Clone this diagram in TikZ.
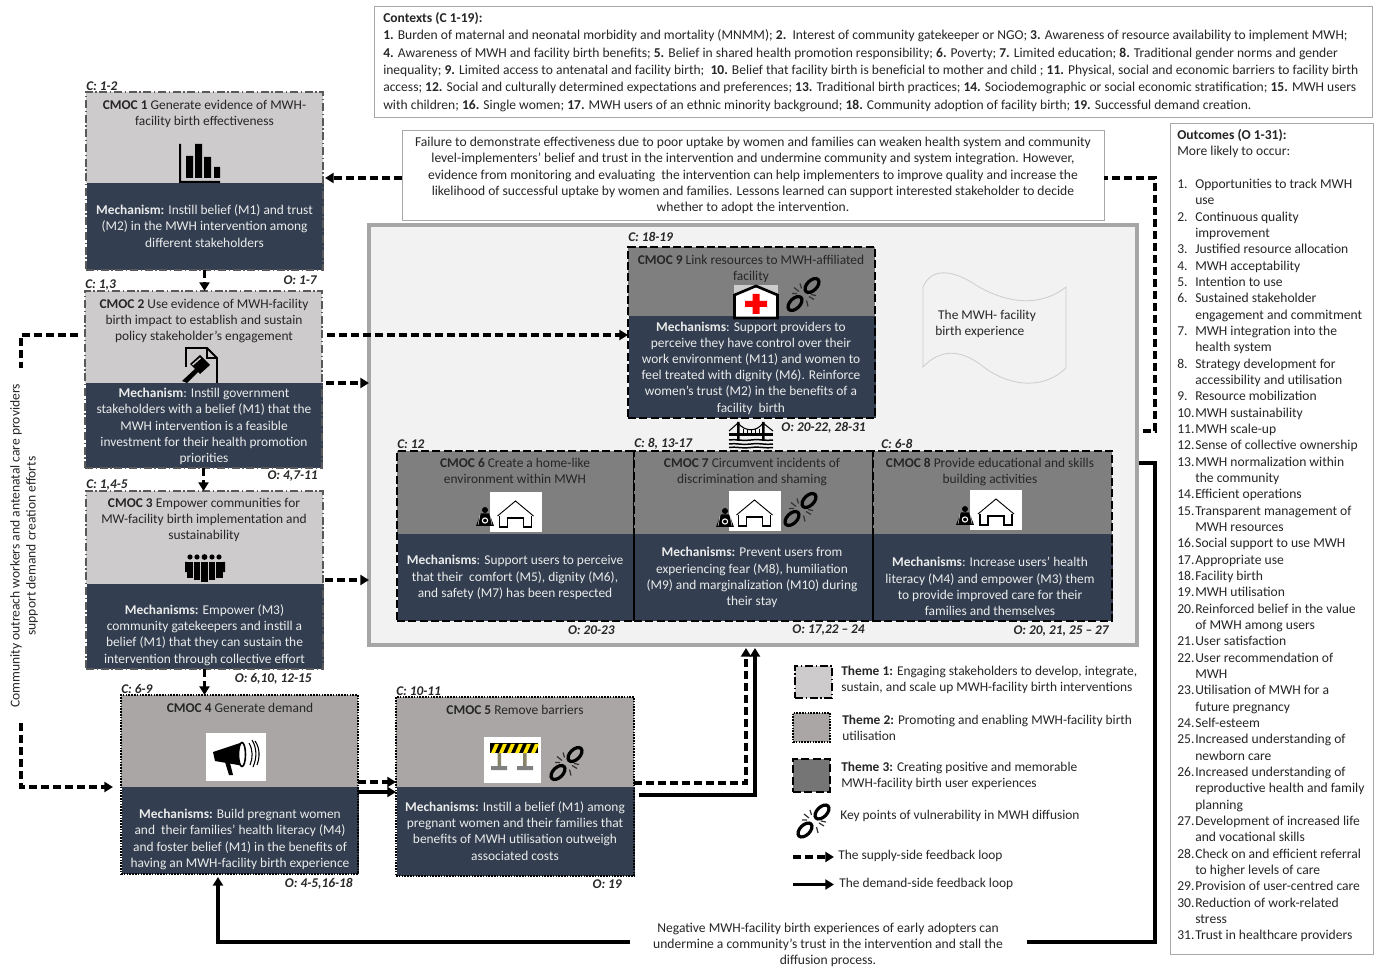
\documentclass[tikz,border=0pt]{standalone}
\usepackage{fontspec}
\setmainfont{Carlito}
\usetikzlibrary{arrows.meta,calc}
\definecolor{thOne}{HTML}{CDCBCC}
\definecolor{thTwo}{HTML}{A9A6A5}
\definecolor{thThree}{HTML}{7F7F7F}
\definecolor{mechblue}{HTML}{333F50}
\definecolor{inkdark}{HTML}{262626}
\definecolor{panelfill}{HTML}{F2F2F2}
\definecolor{panelline}{HTML}{A6A6A6}
\definecolor{thinline}{HTML}{A8A8A8}
\newcommand\basefont{\fontsize{10.05}{12.15}\selectfont}
\newcommand\widefont{\fontsize{10.18}{12.2}\selectfont}
\newcommand\rectnode[6][]{\node[inner sep=0pt,outer sep=0pt,anchor=north west,minimum width={(#5-#3)*0.75pt},minimum height={(#6-#4)*0.75pt},#1] (#2) at (#3,#4) {};}
\newcommand\cmocbox[7]{%
  \rectnode[#2fill]{#1h}{#3}{#4}{#6}{#5}%
  \rectnode[fill=mechblue]{#1m}{#3+1}{#5}{#6-1}{#7}%
  \rectnode[#2frame]{#1}{#3}{#4}{#6}{#7}%
}
\newcommand\oi[2]{\makebox[13.5pt][l]{#1}#2}
\tikzset{
  Afill/.style={fill=thOne}, Bfill/.style={fill=thTwo}, Cfill/.style={fill=thThree},
  Aframe/.style={draw=black!65,line width=0.9pt,dash pattern=on 6pt off 2pt on 1pt off 2pt},
  Bframe/.style={draw=black,line width=1.8pt,dash pattern=on 1.2pt off 0.9pt},
  Cframe/.style={draw=black,line width=1.8pt,dash pattern=on 6pt off 2.5pt},
  ttl/.style={font=\basefont,text=inkdark,align=center,inner sep=0pt},
  wide/.style={font=\widefont,text=inkdark,align=center,inner sep=0pt},
  mech/.style={font=\basefont,text=white!92!black,align=center,inner sep=0pt},
  clab/.style={font=\fontsize{10}{12}\selectfont\bfseries\itshape,text=inkdark,anchor=west,inner sep=0pt},
  olab/.style={font=\fontsize{10}{12}\selectfont\bfseries\itshape,text=inkdark,anchor=east,inner sep=0pt},
  plain/.style={font=\basefont,text=inkdark,align=left,inner sep=0pt,anchor=west},
  infobox/.style={draw=thinline,line width=0.7pt,fill=white},
  sup/.style={draw=black,line width=2.4pt,dash pattern=on 6pt off 3pt},
  dem/.style={draw=black,line width=2.4pt},
  head/.style={-{Triangle[length=6.5pt,width=7.5pt]}},
  brokenchain/.pic={
    \draw[black,line width=2.4pt,rotate around={45:(8,-9)}] (8,-9) ellipse [x radius=8.5,y radius=5];
    \draw[black,line width=2.4pt,rotate around={45:(-9,9)}] (-9,9) ellipse [x radius=8.5,y radius=5];
    \draw[black!80,line width=0.9pt] (-10,-7)--(-5,-3) (-4,-11)--(-2.5,-6) (-12,-1)--(-7,-1) (10,5)--(5,2) (4,12)--(2.5,6) (12,1)--(7,0);
  },
  homeicon/.pic={
    \fill[white] (0,0) rectangle (52,40);
    \draw[black,line width=0.7pt] (8,24)--(26,9)--(44,24);
    \draw[black,line width=0.8pt] (10,24)--(10,35)--(18,35)--(18,26)--(34,26)--(34,35)--(42,35)--(42,24);
  },
  womanicon/.pic={
    \fill[black] (0,-7) circle [radius=3];
    \fill[black] (-4,-3.5)--(4,-3.5)--(6,1)--(9,9)--(-9,9)--(-6,1)--cycle;
    \draw[white,line width=0.8pt] (0,3.5) circle [radius=2.6];
    \draw[white,line width=0.3pt] (-5,-2)--(-7,8) (5,-2)--(7,8);
  },
}
\begin{document}
\begin{tikzpicture}[x=0.75pt,y=-0.75pt]
\useasboundingbox (0,0) rectangle (1378,969);
\fill[white] (0,0) rectangle (1378,969);

% ---------- info boxes
\rectnode[infobox]{ctx}{374}{6}{1372}{117}
\node[font=\fontsize{10.16}{13}\selectfont,text=inkdark,align=left,inner sep=0pt,anchor=west] (ctxt) at (383,62) {\textbf{Contexts (C 1-19):}\\
\textbf{1.} Burden of maternal and neonatal morbidity and mortality (MNMM); \textbf{2.}\ \ Interest of community gatekeeper or NGO; \textbf{3.} Awareness of resource availability to implement MWH;\\
\textbf{4.} Awareness of MWH and facility birth benefits; \textbf{5.} Belief in shared health promotion responsibility; \textbf{6.} Poverty; \textbf{7.} Limited education; \textbf{8.} Traditional gender norms and gender\\
inequality; \textbf{9.} Limited access to antenatal and facility birth;\ \ \textbf{10.} Belief that facility birth is beneficial to mother and child ; \textbf{11.} Physical, social and economic barriers to facility birth\\
access; \textbf{12.} Social and culturally determined expectations and preferences; \textbf{13.} Traditional birth practices; \textbf{14.} Sociodemographic or social economic stratification; \textbf{15.} MWH users\\
with children; \textbf{16.} Single women; \textbf{17.} MWH users of an ethnic minority background; \textbf{18.} Community adoption of facility birth; \textbf{19.} Successful demand creation.};

\rectnode[infobox]{fail}{402}{130}{1104}{220}
\node[wide] (failt) at (753,175.5) {Failure to demonstrate effectiveness due to poor uptake by women and families can weaken health system and community\\
level-implementers' belief and trust in the intervention and undermine community and system integration. However,\\
evidence from monitoring and evaluating\ \ the intervention can help implementers to improve quality and increase the\\
likelihood of successful uptake by women and families. Lessons learned can support interested stakeholder to decide\\
whether to adopt the intervention.};

\rectnode[infobox]{outc}{1170}{123}{1373}{954}
\node[font=\fontsize{10.18}{12.25}\selectfont,text=inkdark,align=left,inner sep=0pt,anchor=north west] (outt) at (1177,129) {\textbf{Outcomes (O 1-31):}\\
More likely to occur:\\[12.25pt]
\oi{1.}{Opportunities to track MWH}\\
\oi{}{use}\\
\oi{2.}{Continuous quality}\\
\oi{}{improvement}\\
\oi{3.}{Justified resource allocation}\\
\oi{4.}{MWH acceptability}\\
\oi{5.}{Intention to use}\\
\oi{6.}{Sustained stakeholder}\\
\oi{}{engagement and commitment}\\
\oi{7.}{MWH integration into the}\\
\oi{}{health system}\\
\oi{8.}{Strategy development for}\\
\oi{}{accessibility and utilisation}\\
\oi{9.}{Resource mobilization}\\
\oi{10.}{MWH sustainability}\\
\oi{11.}{MWH scale-up}\\
\oi{12.}{Sense of collective ownership}\\
\oi{13.}{MWH normalization within}\\
\oi{}{the community}\\
\oi{14.}{Efficient operations}\\
\oi{15.}{Transparent management of}\\
\oi{}{MWH resources}\\
\oi{16.}{Social support to use MWH}\\
\oi{17.}{Appropriate use}\\
\oi{18.}{Facility birth}\\
\oi{19.}{MWH utilisation}\\
\oi{20.}{Reinforced belief in the value}\\
\oi{}{of MWH among users}\\
\oi{21.}{User satisfaction}\\
\oi{22.}{User recommendation of}\\
\oi{}{MWH}\\
\oi{23.}{Utilisation of MWH for a}\\
\oi{}{future pregnancy}\\
\oi{24.}{Self-esteem}\\
\oi{25.}{Increased understanding of}\\
\oi{}{newborn care}\\
\oi{26.}{Increased understanding of}\\
\oi{}{reproductive health and family}\\
\oi{}{planning}\\
\oi{27.}{Development of increased life}\\
\oi{}{and vocational skills}\\
\oi{28.}{Check on and efficient referral}\\
\oi{}{to higher levels of care}\\
\oi{29.}{Provision of user-centred care}\\
\oi{30.}{Reduction of work-related}\\
\oi{}{stress}\\
\oi{31.}{Trust in healthcare providers}};

% ---------- panel
\rectnode[draw=panelline,line width=2.5pt,fill=panelfill]{panel}{369}{225}{1137}{645}

% ---------- CMOC boxes
\cmocbox{ca}{A}{86}{92}{183}{323}{270}
\cmocbox{cb}{A}{85}{291}{383}{322}{468}
\cmocbox{cc}{A}{86}{491}{584}{323}{669}
\cmocbox{cd}{B}{121}{695}{787}{358}{874}
\cmocbox{ce}{B}{396}{697}{787}{634}{876}
\cmocbox{ci}{C}{628}{247}{316}{875}{418}
\cmocbox{cf}{C}{397}{451}{534}{634}{621}
\cmocbox{cg}{C}{634}{451}{534}{873}{621}
\cmocbox{ch}{C}{873}{451}{534}{1112}{621}

% ---------- titles
\node[ttl,anchor=north] (tta) at (204.5,100) {\textbf{CMOC 1} Generate evidence of MWH-\\facility birth effectiveness};
\node[ttl,anchor=north] (ttb) at (204,299) {\textbf{CMOC 2} Use evidence of MWH-facility\\birth impact to establish and sustain\\policy stakeholder’s engagement};
\node[ttl,anchor=north] (ttc) at (204,498) {\textbf{CMOC 3} Empower communities for\\MW-facility birth implementation and\\sustainability};
\node[ttl,anchor=north] (ttd) at (240,703) {\textbf{CMOC 4} Generate demand};
\node[ttl,anchor=north] (tte) at (515,705) {\textbf{CMOC 5} Remove barriers};
\node[ttl,anchor=north] (ttf) at (515,458) {\textbf{CMOC 6} Create a home-like\\environment within MWH};
\node[ttl,anchor=north] (ttg) at (752,458) {\textbf{CMOC 7} Circumvent incidents of\\discrimination and shaming};
\node[ttl,anchor=north] (tth) at (990,458) {\textbf{CMOC 8} Provide educational and skills\\building activities};
\node[ttl,anchor=north] (tti) at (751,255) {\textbf{CMOC 9} Link resources to MWH-affiliated\\facility};

% ---------- mechanisms
\node[mech] (mta) at (204.5,226) {\textbf{Mechanism:} Instill belief (M1) and trust\\(M2) in the MWH intervention among\\different stakeholders};
\node[mech] (mtb) at (204,426.5) {\textbf{Mechanism}: Instill government\\stakeholders with a belief (M1) that the\\MWH intervention is a feasible\\investment for their health promotion\\priorities};
\node[mech] (mtc) at (204.5,635) {\textbf{Mechanisms:} Empower (M3)\\community gatekeepers and instill a\\belief (M1) that they can sustain the\\intervention through collective effort};
\node[mech] (mtd) at (240,839.5) {\textbf{Mechanisms:} Build pregnant women\\and\ \ their families’ health literacy (M4)\\and foster belief (M1) in the benefits of\\having an MWH-facility birth experience};
\node[mech] (mte) at (515,831) {\textbf{Mechanisms:} Instill a belief (M1) among\\pregnant women and their families that\\benefits of MWH utilisation outweigh\\associated costs};
\node[mech] (mtf) at (515,577.5) {\textbf{Mechanisms}: Support users to perceive\\that their\ \ comfort (M5), dignity (M6),\\and safety (M7) has been respected};
\node[mech] (mtg) at (752,577.5) {\textbf{Mechanisms:} Prevent users from\\experiencing fear (M8), humiliation\\(M9) and marginalization (M10) during\\their stay};
\node[mech] (mth) at (990,586.5) {\textbf{Mechanisms}: Increase users’ health\\literacy (M4) and empower (M3) them\\to provide improved care for their\\families and themselves};
\node[mech] (mti) at (751,368) {\textbf{Mechanisms}: Support providers to\\perceive they have control over their\\work environment (M11) and women to\\feel treated with dignity (M6). Reinforce\\women’s trust (M2) in the benefits of a\\facility\ \ birth};

% ---------- C / O labels
\node[clab] (la1) at (86,86) {C: 1-2};
\node[olab] (la2) at (317,280) {O: 1-7};
\node[clab] (lb1) at (85,285) {C: 1,3};
\node[olab] (lb2) at (318,476) {O: 4,7-11};
\node[clab] (lc1) at (86,485) {C: 1,4-5};
\node[olab] (lc2) at (312,679) {O: 6,10, 12-15};
\node[clab] (ld1) at (121,689) {C: 6-9};
\node[olab] (ld2) at (353,884) {O: 4-5,16-18};
\node[clab] (le1) at (396,691) {C: 10-11};
\node[olab] (le2) at (622,884) {O: 19};
\node[clab] (li1) at (628,237) {C: 18-19};
\node[olab] (li2) at (866,428) {O: 20-22, 28-31};
\node[clab] (lf1) at (397,444) {C: 12};
\node[olab] (lf2) at (615,630) {O: 20-23};
\node[clab] (lg1) at (634,444) {C: 8, 13-17};
\node[olab] (lg2) at (865,630) {O: 17,22 – 24};
\node[clab] (lh1) at (881,444) {C: 6-8};
\node[olab] (lh2) at (1109,631) {O: 20, 21, 25 – 27};

% ---------- icon: bar chart
\fill[black] (179,144) rectangle (181,183) (179,181) rectangle (220,183);
\fill[black] (186,156) rectangle (193,178) (195,144) rectangle (202,178) (204,157) rectangle (211,178) (214,167) rectangle (220,178);
% ---------- icon: document with gavel
\draw[black,line width=1.4pt] (186,367)--(186,348)--(207,348)--(217,358)--(217,383);
\draw[black,line width=1pt] (207,348)--(207,358)--(217,358);
\fill[black] (182,381)--(196,368)--(199,371)--(187,383)--cycle;
\fill[black] (190,364)--(200,355)--(210,365)--(200,374)--cycle;
\fill[thOne] (192,364.5)--(200,357.5)--(201,358.5)--(193,365.5)--cycle;
% ---------- icon: group
\foreach \hx/\hy/\bt/\bb in {190/557/562/578,197/557/562/580,212/557/562/580,219/557/562/578}{
  \fill[black] (\hx,\hy) circle [radius=2.6];
  \fill[black] (\hx-3.5,\bt) rectangle (\hx+3.5,\bb);
}
\fill[black] (204.5,557) circle [radius=2.9];
\fill[black] (200.5,562) rectangle (208.5,582);
\draw[thOne,line width=0.4pt] (193.5,562)--(193.5,580) (200.5,562)--(200.5,582) (208.5,562)--(208.5,582) (215.5,562)--(215.5,580);
\fill[black] (185,562) rectangle (187,572) (223,562) rectangle (225,572);
% ---------- icon: megaphone
\fill[white] (206,733) rectangle (266,781);
\fill[black] (213,752)--(240,743)--(244,766)--(215,761)--cycle;
\fill[black] (225,762)--(230,763)--(233,775)--(229,775)--cycle;
\draw[black,line width=1.2pt,fill=white] (242,754.5) ellipse [x radius=3.5,y radius=12];
\draw[black,line width=0.8pt] (249,743) .. controls (253,750) and (253,758) .. (250,765);
\draw[black,line width=0.8pt] (252,740) .. controls (257,748) and (257,758) .. (253,767);
\draw[black,line width=0.8pt] (255,741) .. controls (260,748) and (260,757) .. (257,765);
% ---------- icon: barrier
\fill[white] (484,737) rectangle (541,783);
\fill[gray!70!yellow!70!black] (497.5,753) rectangle (501,767) (523,753) rectangle (526.5,767);
\fill[gray] (491,766) rectangle (507,770) (517,766) rectangle (533,770);
\fill[black] (489.5,743) rectangle (537.5,753);
\foreach \sx in {491,499,507,515,523,531}{
  \fill[yellow!85!orange] (\sx,753)--(\sx+4,753)--(\sx+8,743.8)--(\sx+4,743.8)--cycle;
}
\pic (chainE) at (567,763.5) {brokenchain};
% ---------- icon: hospital
\fill[white!60!thThree] (734,285) rectangle (778,316);
\draw[black,line width=2pt,fill=white] (734.5,318)--(734.5,295)--(756,286)--(777.5,295)--(777.5,318)--cycle;
\fill[red] (752.5,294)--(759.5,294)--(759.5,301)--(767,301)--(767,307)--(759.5,307)--(759.5,314)--(752.5,314)--(752.5,307)--(745,307)--(745,301)--(752.5,301)--cycle;
\pic (chainI) at (804,294.5) {brokenchain};
% ---------- icon: home + woman
\pic (homeF) at (489.5,492) {homeicon};
\pic (womanF) at (485,517) {womanicon};
\pic (homeG) at (728.5,491) {homeicon};
\pic (womanG) at (725,518) {womanicon};
\pic (chainG) at (801,509.5) {brokenchain};
\pic (homeH) at (970,490) {homeicon};
\pic (womanH) at (965,516) {womanicon};
% ---------- icon: bridge
\fill[black] (737,422) rectangle (739.5,441) (762,422) rectangle (764.5,441);
\fill[black] (729,433) rectangle (773,436);
\draw[black,line width=0.8pt] (729,431)--(738,423) .. controls (745,432) and (757,432) .. (763,423) -- (773,431);
\foreach \bx in {743,747,751,755,759}{\draw[black,line width=0.6pt] (\bx,429)--(\bx,434);}
\foreach \wy in {440,444,447.5}{
  \draw[black,line width=1.1pt] (729,\wy) .. controls (736,\wy-1.2) and (740,\wy+1.2) .. (751,\wy) .. controls (760,\wy-1.2) and (766,\wy+1.2) .. (773,\wy);
}

% ---------- flag shape
\draw[black!20,line width=0.6pt] (923,287) .. controls (931,268) and (951,270) .. (971,282) .. controls (1006,305) and (1041,307) .. (1066,287) -- (1066,368) .. controls (1041,392) and (1006,385) .. (981,365) .. controls (961,350) and (941,348) .. (923,367) -- cycle;
\node[plain] (flagt) at (935,324) {\hspace*{2.2pt}The MWH- facility\\birth experience};

% ---------- rotated side text
\node[font=\widefont,text=inkdark,rotate=90,inner sep=0pt] (sidea) at (16,546) {Community outreach workers and antenatal care providers};
\node[font=\widefont,text=inkdark,rotate=90,inner sep=0pt] (sideb) at (32,546) {support demand creation efforts};

% ---------- legend
\rectnode[Afill,Aframe,draw=black,line width=1.6pt]{lgA}{795}{666}{832}{698}
\rectnode[Bfill,Bframe]{lgB}{793}{713}{830}{742}
\rectnode[fill=thThree!92!black,Cframe]{lgC}{793}{759}{830}{792}
\pic (chainL) at (814,821) {brokenchain};
\node[plain] (ltA) at (841,680) {\textbf{Theme 1:} Engaging stakeholders to develop, integrate,\\sustain, and scale up MWH-facility birth interventions};
\node[plain] (ltB) at (842,728) {\textbf{Theme 2:} Promoting and enabling MWH-facility birth\\utilisation};
\node[plain] (ltC) at (841,776) {\textbf{Theme 3:} Creating positive and memorable\\MWH-facility birth user experiences};
\node[plain] (ltD) at (840,816) {Key points of vulnerability in MWH diffusion};
\node[plain] (ltE) at (838,856) {The supply-side feedback loop};
\node[plain] (ltF) at (839,884) {The demand-side feedback loop};
\coordinate (lgsa) at (793,857);
\coordinate (lgsb) at (834,857);
\coordinate (lgda) at (793,884.5);
\coordinate (lgdb) at (834,884.5);
\draw[sup,head] (lgsa) -- (lgsb);
\draw[dem,head] (lgda) -- (lgdb);

% ---------- bottom text
\node[wide] (negt) at (828,945) {Negative MWH-facility birth experiences of early adopters can\\undermine a community’s trust in the intervention and stall the\\diffusion process.};

% ---------- connectors
\draw[sup,head] (ca.south) -- (ca.south |- cb.north);
\draw[sup,head] (cb.south) -- (cb.south |- cc.north);
\draw[sup,head] (cc.south) -- (cc.south |- cd.north);

\coordinate (fbA) at (1143,431);
\coordinate (fbB) at (1155,431);
\coordinate (fbC) at (1155,178);
\coordinate (fbD) at (325,178);
\draw[sup] (fbA) -- (fbB) -- (fbC) -- (fail.east |- fbC);
\draw[sup,head] (fail.west |- fbC) -- (fbD);

\coordinate (dmA) at (1139,463);
\coordinate (dmB) at (1155,463);
\coordinate (dmC) at (1155,942);
\coordinate (dmD) at (1027,942);
\coordinate (dmE) at (630,942);
\coordinate (dmF) at (218,942);
\coordinate (dmG) at (218,877);
\draw[dem] (dmA) -- (dmB) -- (dmC) -- (dmD);
\draw[dem,head] (dmE) -- (dmF) -- (dmG);

\coordinate (bbA) at (327,335);
\draw[sup,head] (bbA) -- (ci.west |- bbA);
\coordinate (bcA) at (326,383);
\draw[sup,head] (bcA) -- (panel.west |- bcA);
\coordinate (ccA) at (325,580);
\draw[sup,head] (ccA) -- (panel.west |- ccA);

\coordinate (slA) at (78,335);
\coordinate (slB) at (21,335);
\coordinate (slC) at (21,368);
\coordinate (slD) at (21,723);
\coordinate (slE) at (21,787);
\coordinate (slF) at (113,787);
\draw[sup] (slA) -- (slB) -- (slC);
\draw[sup,head] (slD) -- (slE) -- (slF);

\coordinate (deA) at (358,782);
\coordinate (deB) at (358,792);
\draw[sup,head] (deA) -- (ce.west |- deA);
\draw[dem,head] (deB) -- (ce.west |- deB);

\coordinate (epA) at (634,783);
\coordinate (epB) at (746,783);
\coordinate (epT) at (746,648);
\coordinate (epC) at (639,795);
\coordinate (epD) at (755,795);
\coordinate (epU) at (755,648);
\draw[sup,head] (epA) -- (epB) -- (epT);
\draw[dem,head] (epC) -- (epD) -- (epU);
\end{tikzpicture}
\end{document}
